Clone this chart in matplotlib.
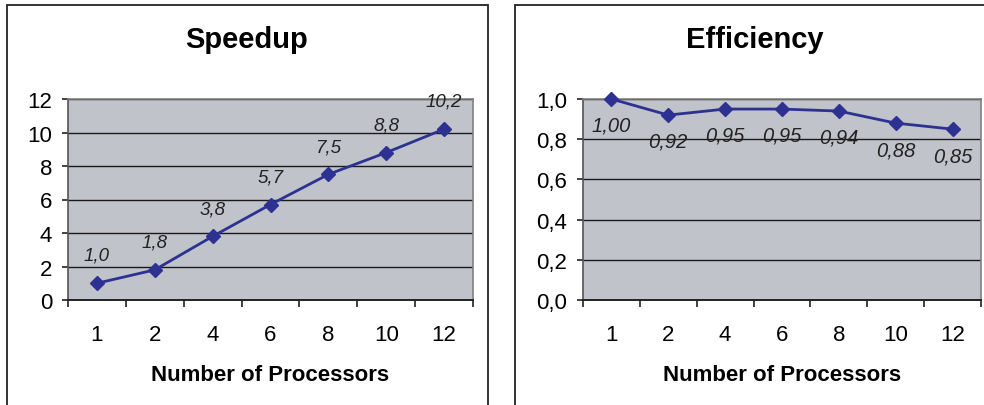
import numpy as np
import matplotlib.pyplot as plt
from matplotlib.patches import Rectangle

plt.rcParams["font.family"] = ["Liberation Sans", "DejaVu Sans"]

processors = ["1", "2", "4", "6", "8", "10", "12"]
speedup = [1.0, 1.8, 3.8, 5.7, 7.5, 8.8, 10.2]
efficiency = [1.00, 0.92, 0.95, 0.95, 0.94, 0.88, 0.85]

speedup_ticks = [0, 2, 4, 6, 8, 10, 12]
efficiency_ticks = [0.0, 0.2, 0.4, 0.6, 0.8, 1.0]

LINE = "#2c3192"
PANEL = "#c0c3ca"

fig = plt.figure(figsize=(9.84, 4.06), dpi=100)
W, H = 984, 406


def px_axes(x0, y0, x1, y1):
    return fig.add_axes([x0 / W, 1 - y1 / H, (x1 - x0) / W, (y1 - y0) / H])


def style_axes(ax, yticks, ylabels):
    n = len(processors)
    ax.set_facecolor(PANEL)
    ax.set_xlim(-0.5, n - 0.5)
    ax.set_ylim(yticks[0], yticks[-1])
    ax.set_yticks(yticks)
    ax.set_yticklabels(ylabels)
    ax.set_xticks(np.arange(n))
    ax.set_xticklabels(processors)
    ax.set_xticks(np.arange(n + 1) - 0.5, minor=True)
    ax.tick_params(axis="x", which="major", length=0, pad=17, labelsize=16)
    ax.tick_params(axis="x", which="minor", length=5, width=1.2, color="#222222")
    ax.tick_params(axis="y", length=4.5, width=1.2, color="#222222", pad=7, labelsize=16)
    ax.grid(axis="y", color="#1a1a1a", linewidth=1.0)
    ax.set_axisbelow(True)
    for side in ["top", "right"]:
        ax.spines[side].set_color("#808080")
        ax.spines[side].set_linewidth(1.2)
    ax.spines["left"].set_color("#555555")
    ax.spines["bottom"].set_color("#222222")
    ax.spines["left"].set_linewidth(1.2)
    ax.spines["bottom"].set_linewidth(1.4)
    ax.set_xlabel("Number of Processors", fontsize=16, fontweight="bold", labelpad=14)


# chart frames
fig.add_artist(Rectangle((7 / W, -0.05), 481 / W, 1.05 - 6 / H, transform=fig.transFigure,
                         fill=False, edgecolor="#222222", linewidth=1.3))
fig.add_artist(Rectangle((515 / W, -0.05), 0.6, 1.05 - 6 / H, transform=fig.transFigure,
                         fill=False, edgecolor="#222222", linewidth=1.3))

x = np.arange(len(processors))

# speedup
ax1 = px_axes(68, 100, 473, 301)
style_axes(ax1, speedup_ticks, [str(t) for t in speedup_ticks])
ax1.plot(x, speedup, color=LINE, linewidth=2, marker="D", markersize=7, clip_on=False, zorder=3)
for xi, v in zip(x, speedup):
    ax1.annotate(f"{v:.1f}".replace(".", ","), (xi, v), xytext=(0, 20), textcoords="offset points",
                 ha="center", va="center", fontsize=13.5, style="italic", color="#222222")
fig.text(247 / W, 1 - 40 / H, "Speedup", ha="center", va="center", fontsize=21, fontweight="bold")

# efficiency
ax2 = px_axes(583, 100, 981, 301)
style_axes(ax2, efficiency_ticks, [f"{t:.1f}".replace(".", ",") for t in efficiency_ticks])
ax2.plot(x, efficiency, color=LINE, linewidth=2, marker="D", markersize=7, clip_on=False, zorder=3)
for xi, v in zip(x, efficiency):
    ax2.annotate(f"{v:.2f}".replace(".", ","), (xi, v), xytext=(0, -19), textcoords="offset points",
                 ha="center", va="center", fontsize=14.5, style="italic", color="#222222")
fig.text(755 / W, 1 - 40 / H, "Efficiency", ha="center", va="center", fontsize=21, fontweight="bold")

fig.savefig("out.png", dpi=100)
